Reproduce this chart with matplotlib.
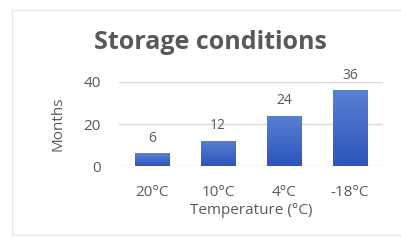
import matplotlib.pyplot as plt
import numpy as np
from matplotlib.colors import LinearSegmentedColormap

plt.rcParams['font.family'] = ['Open Sans', 'DejaVu Sans']

categories = ['20°C', '10°C', '4°C', '-18°C']
months = [6, 12, 24, 36]
y_ticks = [0, 20, 40]

text_col = '#595959'
grad = LinearSegmentedColormap.from_list('bargrad', ['#2c55bd', '#5a80d2'])

fig = plt.figure(figsize=(4.02, 2.45), dpi=100)
fig.patch.set_facecolor('white')
# faint frame around the chart area
fig.add_artist(plt.Rectangle((12/402, 10/245), 1.2, 225/245, transform=fig.transFigure,
                             fill=False, edgecolor='#e6e6e6', linewidth=1))

ax = fig.add_axes([119/402, 1-166/245, 264/402, 84/245])
x = np.arange(len(categories))
bars = ax.bar(x, months, width=0.52, color='#3c66c8', zorder=3)
# vertical gradient fill like the office style bars
for b in bars:
    x0, y0 = b.get_x(), b.get_y()
    w, h = b.get_width(), b.get_height()
    im = ax.imshow(np.linspace(0, 1, 64).reshape(-1, 1), cmap=grad, origin='lower',
                   extent=[x0, x0 + w, y0, y0 + h], aspect='auto', zorder=4)
    im.set_clip_path(b)
ax.set_xlim(-0.5, len(categories) - 0.5)
ax.set_ylim(0, 40)
ax.set_yticks(y_ticks)
ax.set_xticks(x)
ax.set_xticklabels(categories)
ax.grid(axis='y', color='#d9d9d9', linewidth=1, zorder=0)
for s in ax.spines.values():
    s.set_visible(False)
ax.tick_params(length=0, colors=text_col, labelsize=11)
ax.tick_params(axis='x', pad=14)
ax.tick_params(axis='y', pad=13)

for xi, v in zip(x, months):
    ax.annotate(str(v), (xi, v), xytext=(0, 11), textcoords='offset points',
                ha='center', va='center', color=text_col, fontsize=10, clip_on=False)

ax.set_ylabel('Months', color=text_col, fontsize=11, labelpad=13)
ax.set_xlabel('Temperature (°C)', color=text_col, fontsize=11, labelpad=2)
fig.text(210/402, 1-42/245, 'Storage conditions', ha='center', va='center',
         fontsize=18, fontweight='bold', color=text_col)

fig.savefig('out.png', dpi=100)
